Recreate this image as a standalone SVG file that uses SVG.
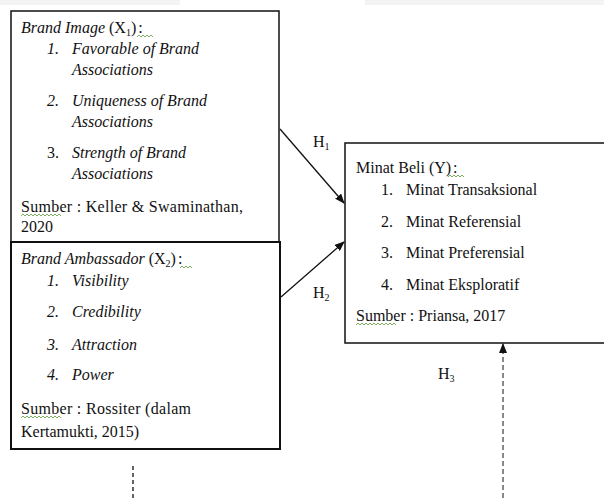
<svg xmlns="http://www.w3.org/2000/svg" width="604" height="498" viewBox="0 0 604 498">
<style>
.t{font-family:"Liberation Serif","Times New Roman",serif;font-size:16px;fill:#111}
.i{font-style:italic}
.box{fill:#fff;stroke:#111;stroke-width:1.5}
.box2{fill:#fff;stroke:#111;stroke-width:2}
.sq{fill:none;stroke:#5a9a3a;stroke-width:0.8}
.edge{stroke:#111;stroke-width:1.3;fill:none}
.sub{font-size:10px}
</style>
<defs>
<marker id="ah" markerWidth="10" markerHeight="8" refX="9" refY="4" orient="auto" markerUnits="userSpaceOnUse">
<path d="M0,0 L10,4 L0,8 z" fill="#111"/>
</marker>
</defs>
<rect x="0" y="0" width="604" height="498" fill="#fff"/>
<rect x="0" y="0" width="180" height="5" fill="#f3f3f3"/>
<rect x="365" y="0" width="239" height="5" fill="#f3f3f3"/>

<g id="brand-image">
<rect class="box" x="11" y="11" width="268" height="231"/>
<text class="t" x="21" y="33"><tspan class="i">Brand Image</tspan> (X<tspan class="sub" dy="3">1</tspan><tspan dy="-3">)</tspan><tspan dx="2">:</tspan></text>
<path class="sq" d="M137,37 l2,-2 l2,2 l2,-2 l2,2 l2,-2 l2,2 l2,-2 l2,2"/>
<text class="t i" x="47" y="54">1.</text><text class="t i" x="72" y="54">Favorable of Brand</text>
<text class="t i" x="72" y="75">Associations</text>
<text class="t i" x="47" y="106">2.</text><text class="t i" x="72" y="106">Uniqueness  of Brand</text>
<text class="t i" x="72" y="127">Associations</text>
<text class="t" x="47" y="158">3.</text><text class="t i" x="72" y="158">Strength of Brand</text>
<text class="t i" x="72" y="179">Associations</text>
<text class="t" x="21" y="212" textLength="222">Sumber : Keller &amp; Swaminathan,</text>
<path class="sq" d="M21,216 l2,-2 l2,2 l2,-2 l2,2 l2,-2 l2,2 l2,-2 l2,2 l2,-2 l2,2 l2,-2 l2,2 l2,-2 l2,2 l2,-2 l2,2 l2,-2 l2,2 l2,-2 l2,2"/>
<text class="t" x="21" y="232">2020</text>
</g>

<g id="brand-ambassador">
<rect class="box2" x="11" y="242" width="269" height="207"/>
<text class="t" x="21" y="264"><tspan class="i">Brand Ambassador</tspan> (X<tspan class="sub" dy="3">2</tspan><tspan dy="-3">)</tspan><tspan dx="2">:</tspan></text>
<path class="sq" d="M180,268 l2,-2 l2,2 l2,-2 l2,2 l2,-2 l2,2"/>
<text class="t i" x="47" y="286">1.</text><text class="t i" x="72" y="286">Visibility</text>
<text class="t i" x="47" y="317">2.</text><text class="t i" x="72" y="317">Credibility</text>
<text class="t i" x="47" y="350">3.</text><text class="t i" x="72" y="350">Attraction</text>
<text class="t i" x="47" y="380">4.</text><text class="t i" x="72" y="380">Power</text>
<text class="t" x="21" y="414" textLength="170">Sumber : Rossiter (dalam</text>
<path class="sq" d="M21,418 l2,-2 l2,2 l2,-2 l2,2 l2,-2 l2,2 l2,-2 l2,2 l2,-2 l2,2 l2,-2 l2,2 l2,-2 l2,2 l2,-2 l2,2 l2,-2 l2,2 l2,-2 l2,2"/>
<text class="t" x="21" y="437">Kertamukti,  2015)</text>
</g>

<g id="minat-beli">
<rect class="box" x="345" y="143" width="270" height="200"/>
<text class="t" x="356" y="173">Minat Beli (Y)<tspan dx="2">:</tspan></text>
<path class="sq" d="M448,177 l2,-2 l2,2 l2,-2 l2,2 l2,-2 l2,2 l2,-2 l2,2"/>
<text class="t" x="381" y="195">1.</text><text class="t" x="406" y="195">Minat Transaksional</text>
<text class="t" x="381" y="227">2.</text><text class="t" x="406" y="227">Minat Referensial</text>
<text class="t" x="381" y="258">3.</text><text class="t" x="406" y="258">Minat Preferensial</text>
<text class="t" x="381" y="290">4.</text><text class="t" x="406" y="290">Minat Eksploratif</text>
<text class="t" x="356" y="321">Sumber : Priansa, 2017</text>
<path class="sq" d="M356,325 l2,-2 l2,2 l2,-2 l2,2 l2,-2 l2,2 l2,-2 l2,2 l2,-2 l2,2 l2,-2 l2,2 l2,-2 l2,2 l2,-2 l2,2 l2,-2 l2,2 l2,-2 l2,2"/>
</g>

<g id="connectors">
<line class="edge" x1="280" y1="129" x2="344" y2="203" marker-end="url(#ah)"/>
<line class="edge" x1="281" y1="297" x2="344" y2="242" marker-end="url(#ah)"/>
<line x1="503" y1="498" x2="503" y2="344" stroke="#888" stroke-width="2" stroke-dasharray="5,3" marker-end="url(#ah)"/>
<line x1="133" y1="466" x2="133" y2="498" stroke="#111" stroke-width="1.3" stroke-dasharray="4,3"/>
<text class="t" x="313" y="147">H<tspan class="sub" dy="3">1</tspan></text>
<text class="t" x="313" y="298">H<tspan class="sub" dy="3">2</tspan></text>
<text class="t" x="438" y="379">H<tspan class="sub" dy="3">3</tspan></text>
</g>
</svg>
